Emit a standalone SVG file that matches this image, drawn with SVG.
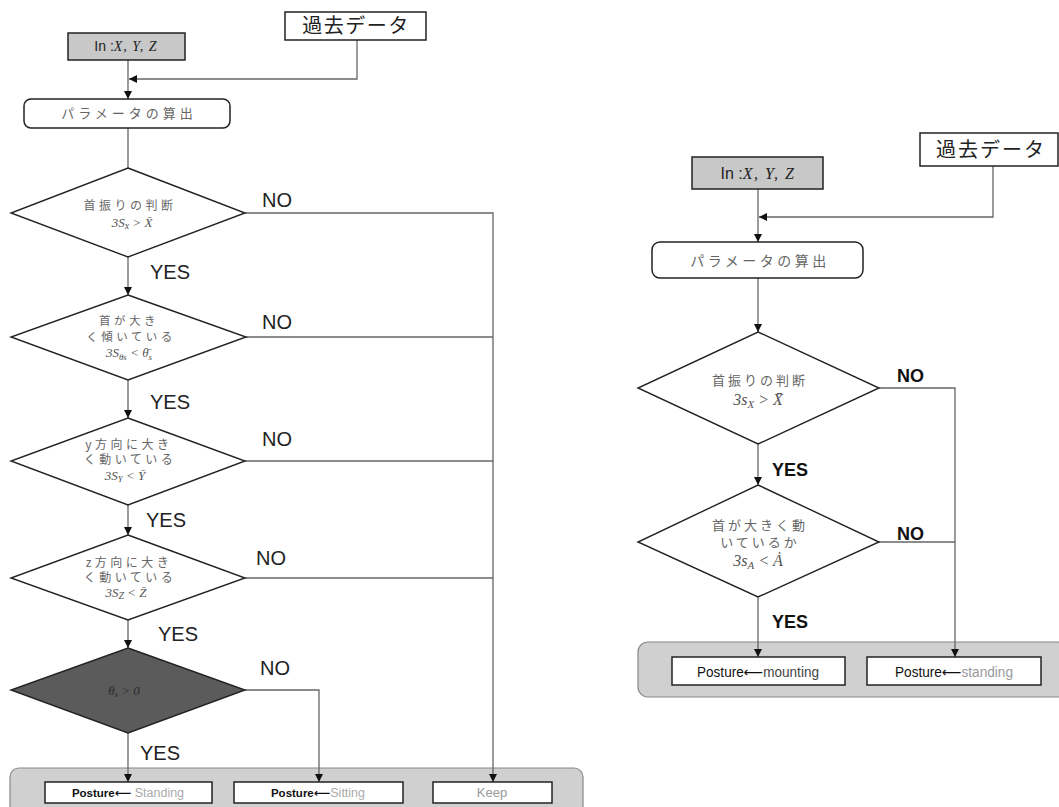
<svg xmlns="http://www.w3.org/2000/svg" width="1059" height="807" viewBox="0 0 1059 807">
<style>
.box{fill:#fff;stroke:#222;stroke-width:1.5}
.inbox{fill:#c8c8c8;stroke:#222;stroke-width:1.5}
.dia{fill:#fff;stroke:#222;stroke-width:1.4}
.diad{fill:#5b5b5b;stroke:#222;stroke-width:1.4}
.panel{fill:#d0d0d0;stroke:#888;stroke-width:1.2}
.ln{fill:none;stroke:#666;stroke-width:1.3}
.jp{font-family:"Noto Sans CJK JP",sans-serif;fill:#666;text-anchor:middle}
.jpb{font-family:"Noto Sans CJK JP",sans-serif;fill:#222;text-anchor:middle}
.m{font-family:"Liberation Serif",serif;font-style:italic;fill:#555;text-anchor:middle}
.lab{font-family:"Liberation Sans",Arial,sans-serif;fill:#222}
.labb{font-family:"Liberation Sans",Arial,sans-serif;font-weight:bold;fill:#111}
.pt{font-family:"Liberation Sans",Arial,sans-serif;text-anchor:middle;fill:#111}
.g{fill:#aaa;font-weight:normal}
</style>
<defs>
<marker id="ah" viewBox="0 0 10 10" refX="10" refY="5" markerWidth="8" markerHeight="8" orient="auto" markerUnits="userSpaceOnUse">
<path d="M0,0 L10,5 L0,10 z" fill="#111"/>
</marker>
</defs>

<g id="L_panel">
<rect class="panel" x="10" y="768" width="573" height="50" rx="9"/>
</g>
<g id="R_panel">
<rect class="panel" x="638" y="642" width="430" height="55" rx="10"/>
</g>

<g id="connectors">
<path class="ln" d="M128,60 V99" marker-end="url(#ah)"/>
<path class="ln" d="M357,40 V79 H129" marker-end="url(#ah)"/>
<path class="ln" d="M128,128 V168"/>
<path class="ln" d="M128,257 V295" marker-end="url(#ah)"/>
<path class="ln" d="M128,380 V418" marker-end="url(#ah)"/>
<path class="ln" d="M128,505 V535" marker-end="url(#ah)"/>
<path class="ln" d="M128,620 V648" marker-end="url(#ah)"/>
<path class="ln" d="M128,733 V782" marker-end="url(#ah)"/>
<path class="ln" d="M245,690 H319 V782" marker-end="url(#ah)"/>
<path class="ln" d="M245,213 H493 V782" marker-end="url(#ah)"/>
<path class="ln" d="M246,337 H493"/>
<path class="ln" d="M245,461 H493"/>
<path class="ln" d="M245,578 H493"/>
<path class="ln" d="M758,189 V242" marker-end="url(#ah)"/>
<path class="ln" d="M993,166 V217 H759" marker-end="url(#ah)"/>
<path class="ln" d="M758,278 V332" marker-end="url(#ah)"/>
<path class="ln" d="M758,444 V485" marker-end="url(#ah)"/>
<path class="ln" d="M758,597 V657" marker-end="url(#ah)"/>
<path class="ln" d="M879,388 H955 V657" marker-end="url(#ah)"/>
<path class="ln" d="M879,542 H955"/>
</g>

<g id="labels">
<text class="lab" x="262" y="207" font-size="20">NO</text>
<text class="lab" x="150" y="279" font-size="20">YES</text>
<text class="lab" x="262" y="329" font-size="20">NO</text>
<text class="lab" x="150" y="409" font-size="20">YES</text>
<text class="lab" x="262" y="446" font-size="20">NO</text>
<text class="lab" x="146" y="527" font-size="20">YES</text>
<text class="lab" x="256" y="565" font-size="20">NO</text>
<text class="lab" x="158" y="641" font-size="20">YES</text>
<text class="lab" x="260" y="675" font-size="20">NO</text>
<text class="lab" x="140" y="760" font-size="20">YES</text>
<text class="labb" x="897" y="382" font-size="18">NO</text>
<text class="labb" x="772" y="476" font-size="18">YES</text>
<text class="labb" x="897" y="540" font-size="18">NO</text>
<text class="labb" x="772" y="628" font-size="18">YES</text>
</g>

<g id="L_past">
<rect class="box" x="285" y="12" width="141" height="28"/>
<text class="jpb" x="356" y="33" font-size="20" letter-spacing="1.5">過去データ</text>
</g>
<g id="L_in">
<rect class="inbox" x="68" y="33" width="117" height="27"/>
<text x="126" y="51" text-anchor="middle" font-size="14"><tspan font-family="Liberation Sans,sans-serif" fill="#222">In :</tspan><tspan font-family="Liberation Serif,serif" font-style="italic" fill="#222" letter-spacing="1">X, Y, Z</tspan></text>
</g>
<g id="L_param">
<rect class="box" x="24" y="99" width="206" height="29" rx="7"/>
<text class="jp" x="129" y="118" font-size="13" letter-spacing="4">パラメータの算出</text>
</g>
<g id="L_d1">
<polygon class="dia" points="128,168 245,213 128,257 11,213"/>
<text class="jp" x="130" y="210" font-size="12" letter-spacing="3.5">首振りの判断</text>
<text class="m" x="132" y="227" font-size="13">3S<tspan font-size="10" dy="2">x</tspan><tspan dy="-2"> &gt; X̄</tspan></text>
</g>
<g id="L_d2">
<polygon class="dia" points="128,295 246,337 128,380 11,337"/>
<text class="jp" x="129" y="325" font-size="11.5" letter-spacing="3.5">首が大き</text>
<text class="jp" x="131" y="341" font-size="11.5" letter-spacing="3.5">く傾いている</text>
<text class="m" x="129" y="357" font-size="13">3S<tspan font-size="9" dy="3">θs</tspan><tspan dy="-3"> &lt; θ̄</tspan><tspan font-size="9" dy="3">s</tspan></text>
</g>
<g id="L_d3">
<polygon class="dia" points="128,418 245,461 128,505 11,461"/>
<text class="jp" x="129" y="449" font-size="12" letter-spacing="3.5">y方向に大き</text>
<text class="jp" x="130" y="464" font-size="12" letter-spacing="3.5">く動いている</text>
<text class="m" x="125" y="480" font-size="13">3S<tspan font-size="9" dy="2">Y</tspan><tspan dy="-2"> &lt; Ȳ</tspan></text>
</g>
<g id="L_d4">
<polygon class="dia" points="128,535 245,578 128,620 11,578"/>
<text class="jp" x="129" y="567" font-size="12" letter-spacing="3.5">z方向に大き</text>
<text class="jp" x="130" y="582" font-size="12" letter-spacing="3.5">く動いている</text>
<text class="m" x="126" y="597" font-size="13">3S<tspan font-size="10" dy="2">Z</tspan><tspan dy="-2"> &lt; Z̄</tspan></text>
</g>
<g id="L_d5">
<polygon class="diad" points="128,648 245,690 128,733 11,690"/>
<text class="m" x="124" y="695" font-size="13" style="fill:#2a2a2a">θ<tspan font-size="9" dy="2">s</tspan><tspan dy="-2"> &gt; 0</tspan></text>
</g>
<g id="L_standing">
<rect class="box" x="45" y="782" width="167" height="21"/>
<text class="pt" x="128" y="797" font-size="11.5" font-weight="bold">Posture<tspan font-family="DejaVu Sans,sans-serif">⟵</tspan><tspan class="g" font-size="12.5"> Standing</tspan></text>
</g>
<g id="L_sitting">
<rect class="box" x="234" y="782" width="169" height="21"/>
<text class="pt" x="318" y="797" font-size="11.5" font-weight="bold">Posture<tspan font-family="DejaVu Sans,sans-serif">⟵</tspan><tspan class="g" font-size="12.5">Sitting</tspan></text>
</g>
<g id="L_keep">
<rect class="box" x="433" y="782" width="119" height="21"/>
<text class="pt" x="492" y="797" font-size="13" style="fill:#999">Keep</text>
</g>

<g id="R_past">
<rect class="box" x="920" y="133" width="138" height="33"/>
<text class="jpb" x="991" y="157" font-size="20" letter-spacing="2">過去データ</text>
</g>
<g id="R_in">
<rect class="inbox" x="692" y="157" width="131" height="32"/>
<text x="758" y="179" text-anchor="middle" font-size="16"><tspan font-family="Liberation Sans,sans-serif" fill="#222">In :</tspan><tspan font-family="Liberation Serif,serif" font-style="italic" fill="#222" letter-spacing="1.5">X, Y, Z</tspan></text>
</g>
<g id="R_param">
<rect class="box" x="652" y="242" width="211" height="36" rx="8"/>
<text class="jp" x="760" y="266" font-size="14" letter-spacing="3.5">パラメータの算出</text>
</g>
<g id="R_d1">
<polygon class="dia" points="758,332 879,388 758,444 638,388"/>
<text class="jp" x="760" y="385" font-size="13" letter-spacing="3">首振りの判断</text>
<text class="m" x="758" y="405" font-size="16">3s<tspan font-size="11" dy="3">X</tspan><tspan dy="-3"> &gt; X̄</tspan></text>
</g>
<g id="R_d2">
<polygon class="dia" points="758,485 879,542 758,597 638,542"/>
<text class="jp" x="760" y="530" font-size="13" letter-spacing="3">首が大きく動</text>
<text class="jp" x="760" y="547" font-size="13" letter-spacing="3">いているか</text>
<text class="m" x="758" y="566" font-size="16">3s<tspan font-size="11" dy="3">A</tspan><tspan dy="-3"> &lt; Ȧ</tspan></text>
</g>
<g id="R_mounting">
<rect class="box" x="672" y="657" width="173" height="28"/>
<text class="pt" x="758" y="677" font-size="14" textLength="122" lengthAdjust="spacingAndGlyphs">Posture<tspan font-family="DejaVu Sans,sans-serif">⟵</tspan><tspan fill="#444">mounting</tspan></text>
</g>
<g id="R_standing">
<rect class="box" x="867" y="657" width="174" height="28"/>
<text class="pt" x="954" y="677" font-size="14" textLength="118" lengthAdjust="spacingAndGlyphs">Posture<tspan font-family="DejaVu Sans,sans-serif">⟵</tspan><tspan fill="#999">standing</tspan></text>
</g>
</svg>
